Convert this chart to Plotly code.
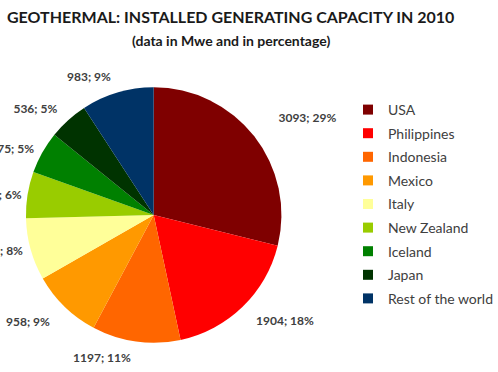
import plotly.graph_objects as go

countries = ["USA", "Philippines", "Indonesia", "Mexico", "Italy",
             "New Zealand", "Iceland", "Japan", "Rest of the world"]
capacity_mwe = [3093, 1904, 1197, 958, 843, 628, 575, 536, 983]
colors = ["#7f0000", "#ff0000", "#ff6600", "#ff9900", "#ffff99",
          "#99cc00", "#008000", "#003300", "#003366"]

# per-slice outward offset of the data labels (fraction of label radius)
label_pull = [0.1846, 0.092, 0.054, 0.105, 0.015, 0.0, 0.023, 0.065, 0.054]

W, H = 498, 372
FONT = "Lato"
TXT = "#404040"

# pie geometry in pixels
cx, cy, r = 154, 215, 128
R_lab = 154

def dom(cx, cy, r):
    x0, x1 = max(cx - r, 0) / W, (cx + r) / W
    y0, y1 = (H - (cy + r)) / H, (H - (cy - r)) / H
    return dict(x=[x0, x1], y=[y0, y1])

fig = go.Figure()

fig.add_trace(go.Pie(
    labels=countries, values=capacity_mwe, sort=False, direction="clockwise",
    rotation=0, marker=dict(colors=colors, line=dict(width=0)),
    textinfo="none", showlegend=False, hoverinfo="label+value+percent",
    domain=dom(cx, cy, r), automargin=False,
))

fig.add_trace(go.Pie(
    labels=countries, values=capacity_mwe, sort=False, direction="clockwise",
    rotation=0, pull=label_pull,
    marker=dict(colors=["rgba(0,0,0,0)"] * len(countries), line=dict(width=0)),
    texttemplate="%{value:.0f}; %{percent:.0%}", textposition="outside",
    outsidetextfont=dict(family=FONT, size=12, color=TXT, weight="bold"),
    showlegend=False, hoverinfo="skip",
    domain=dom(cx, cy, R_lab), automargin=False,
))

for name, col in zip(countries, colors):
    fig.add_trace(go.Scatter(
        x=[None], y=[None], mode="markers", name=name, legendgroup=name,
        marker=dict(symbol="square", size=10, color=col),
    ))

fig.update_layout(
    width=W, height=H, margin=dict(l=0, r=0, t=0, b=0),
    paper_bgcolor="white", plot_bgcolor="white",
    xaxis=dict(visible=False), yaxis=dict(visible=False),
    legend=dict(x=349 / W, y=1 - 94 / H, xanchor="left", yanchor="top",
                traceorder="grouped", tracegroupgap=2.4,
                font=dict(family=FONT, size=14, color=TXT)),
    annotations=[
        dict(text="<b>GEOTHERMAL: INSTALLED GENERATING CAPACITY IN 2010</b>",
             x=231 / W, y=1 - 17 / H, xref="paper", yref="paper",
             xanchor="center", yanchor="middle", showarrow=False,
             font=dict(family=FONT, size=16, color="#1a1a1a")),
        dict(text="<b>(data in Mwe and in percentage)</b>",
             x=231 / W, y=1 - 40 / H, xref="paper", yref="paper",
             xanchor="center", yanchor="middle", showarrow=False,
             font=dict(family=FONT, size=14, color="#1a1a1a")),
    ],
)

fig.write_html("out.html")
